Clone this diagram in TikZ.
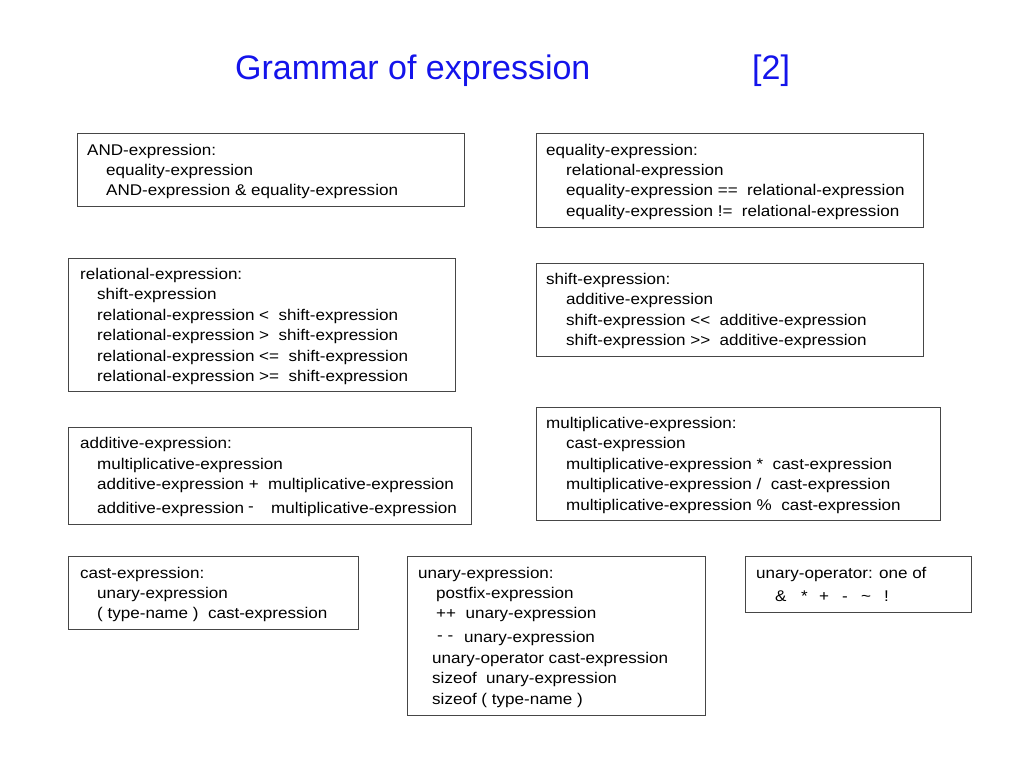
\documentclass[tikz,border=0pt]{standalone}
\usepackage{fontspec}
\setmainfont{Liberation Sans}
\newfontfamily\bodyfont[FakeStretch=1.1]{Liberation Sans}
\definecolor{titleblue}{RGB}{20,20,235}
\definecolor{boxgray}{RGB}{70,70,70}
\begin{document}
\begin{tikzpicture}[x=1pt,y=-1pt,
  box/.style={draw=boxgray, line width=1pt, anchor=north west, inner sep=0pt},
  txt/.style={anchor=base west, inner sep=0pt, font=\bodyfont\fontsize{15.5}{18}\selectfont},
  ttl/.style={anchor=base west, inner sep=0pt, text=titleblue, font=\fontsize{34}{40}\selectfont}]
\useasboundingbox[fill=white] (0,0) rectangle (1024,768);
% title
\node[ttl] (title) at (235,79) {Grammar of expression};
\node[ttl] (titlenum) at (752,79) {[2]};
% box 1
\node[box, minimum width=387pt, minimum height=73pt] (andbox) at (77,133) {};
\node[txt] (a1) at (87,155) {AND-expression:};
\node[txt] (a2) at (106,175) {equality-expression};
\node[txt] (a3) at (106,195) {AND-expression \& equality-expression};
% box 2
\node[box, minimum width=387pt, minimum height=94pt] (eqbox) at (536,133) {};
\node[txt] (e1) at (546,155) {equality-expression:};
\node[txt] (e2) at (566,175) {relational-expression};
\node[txt] (e3) at (566,195) {equality-expression ==\ \ relational-expression};
\node[txt] (e4) at (566,216) {equality-expression !=\ \ relational-expression};
% box 3
\node[box, minimum width=387pt, minimum height=133pt] (relbox) at (68,258) {};
\node[txt] (r1) at (80,279) {relational-expression:};
\node[txt] (r2) at (97,299) {shift-expression};
\node[txt] (r3) at (97,320) {relational-expression <\ \ shift-expression};
\node[txt] (r4) at (97,340) {relational-expression >\ \ shift-expression};
\node[txt] (r5) at (97,361) {relational-expression <=\ \ shift-expression};
\node[txt] (r6) at (97,381) {relational-expression >=\ \ shift-expression};
% box 4
\node[box, minimum width=387pt, minimum height=93pt] (shbox) at (536,263) {};
\node[txt] (s1) at (546,284) {shift-expression:};
\node[txt] (s2) at (566,304) {additive-expression};
\node[txt] (s3) at (566,325) {shift-expression <<\ \ additive-expression};
\node[txt] (s4) at (566,345) {shift-expression >>\ \ additive-expression};
% box 5
\node[box, minimum width=404pt, minimum height=113pt] (mulbox) at (536,407) {};
\node[txt] (m1) at (546,428) {multiplicative-expression:};
\node[txt] (m2) at (566,448) {cast-expression};
\node[txt] (m3) at (566,469) {multiplicative-expression *\ \ cast-expression};
\node[txt] (m4) at (566,489) {multiplicative-expression /\ \ cast-expression};
\node[txt] (m5) at (566,510) {multiplicative-expression \%\ \ cast-expression};
% box 6
\node[box, minimum width=403pt, minimum height=97pt] (addbox) at (68,427) {};
\node[txt] (d1) at (80,448) {additive-expression:};
\node[txt] (d2) at (97,469) {multiplicative-expression};
\node[txt] (d3) at (97,489) {additive-expression +\ \ multiplicative-expression};
\node[txt] (d4) at (97,513) {additive-expression};
\node[txt] (d5) at (248,511) {-};
\node[txt] (d6) at (271,513) {multiplicative-expression};
% box 7
\node[box, minimum width=290pt, minimum height=73pt] (castbox) at (68,556) {};
\node[txt] (c1) at (80,578) {cast-expression:};
\node[txt] (c2) at (97,598) {unary-expression};
\node[txt] (c3) at (97,618) {( type-name )\ \ cast-expression};
% box 8
\node[box, minimum width=298pt, minimum height=159pt] (unbox) at (407,556) {};
\node[txt] (u1) at (418,578) {unary-expression:};
\node[txt] (u2) at (436,598) {postfix-expression};
\node[txt] (u3) at (436,618) {++\ \ unary-expression};
\node[txt] (u4) at (437,640) {- -};
\node[txt] (u5) at (464,642) {unary-expression};
\node[txt] (u6) at (432,663) {unary-operator cast-expression};
\node[txt] (u7) at (432,683) {sizeof\ \ unary-expression};
\node[txt] (u8) at (432,704) {sizeof ( type-name )};
% box 9
\node[box, minimum width=226pt, minimum height=56pt] (opbox) at (745,556) {};
\node[txt] (o1) at (756,578) {unary-operator: one of};
\node[txt] (o2) at (775,601) {\&};
\node[txt] (o3) at (801,601) {*};
\node[txt] (o4) at (819,601) {+};
\node[txt] (o5) at (842,601) {-};
\node[txt] (o6) at (861,601) {\textasciitilde};
\node[txt] (o7) at (884,601) {!};
\end{tikzpicture}
\end{document}
